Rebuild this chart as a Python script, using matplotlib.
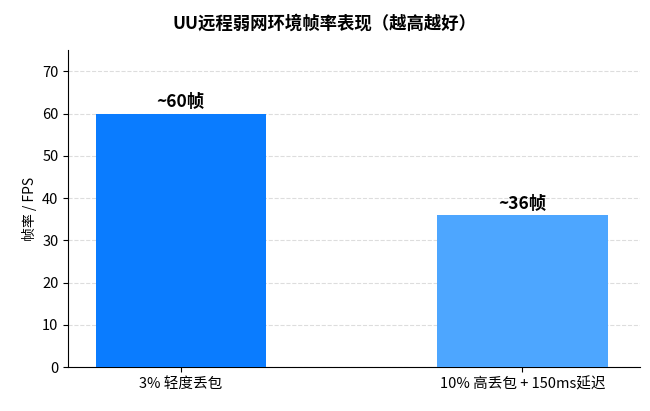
import matplotlib
matplotlib.use("Agg")
import matplotlib.pyplot as plt

plt.rcParams['font.family'] = ['Noto Sans CJK SC', 'DejaVu Sans']

categories = ["3% 轻度丢包", "10% 高丢包 + 150ms延迟"]
fps = [60, 36]
labels = ["~60帧", "~36帧"]
colors = ["#0A7CFF", "#4DA6FF"]

fig = plt.figure(figsize=(6.5, 4.11), dpi=100)
ax = fig.add_axes([0.105, 0.107, 0.88, 0.771])
x = list(range(len(categories)))
bars = ax.bar(x, fps, width=0.5, color=colors, zorder=3)
for xi, v, t in zip(x, fps, labels):
    ax.text(xi, v + 0.5, t, ha='center', va='bottom', fontsize=12.5, fontweight='bold')
ax.set_xticks(x)
ax.set_xticklabels(categories, fontsize=10.5)
ax.set_xlim(-0.33, 1.345)
ax.set_ylim(0, 75)
ax.set_yticks(range(0, 71, 10))
ax.tick_params(axis='y', labelsize=10.5)
ax.set_ylabel("帧率 / FPS", fontsize=10)
ax.yaxis.grid(True, linestyle='--', color='#dddddd', zorder=0)
ax.spines['top'].set_visible(False)
ax.spines['right'].set_visible(False)
fig.suptitle("UU远程弱网环境帧率表现（越高越好）", fontsize=12.5, fontweight='bold', y=0.965)
fig.savefig("out.png", dpi=100)
